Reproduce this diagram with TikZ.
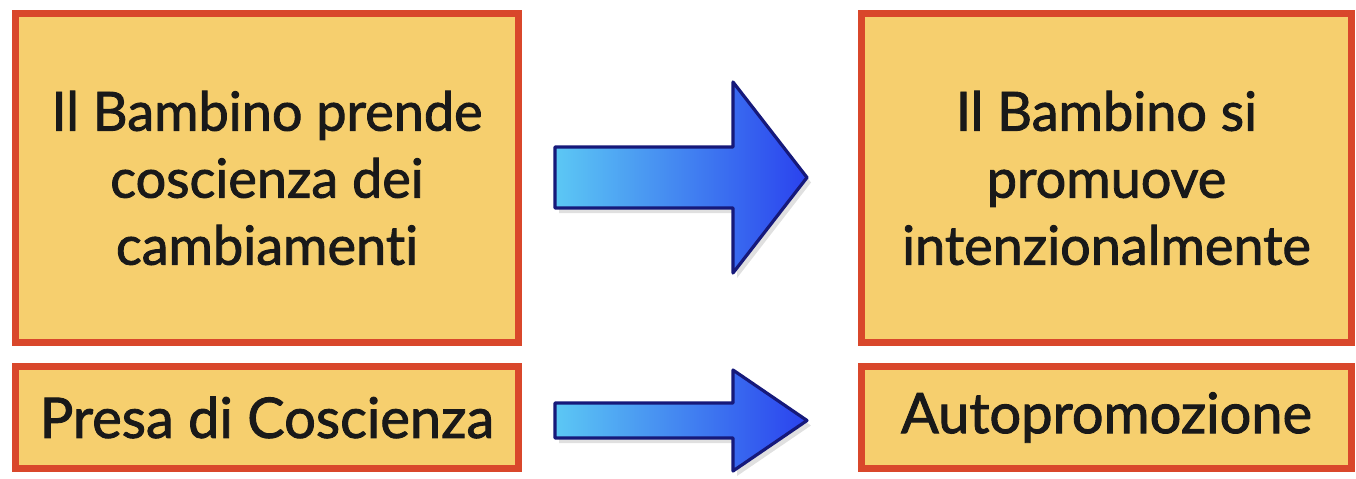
\documentclass[tikz,border=0pt]{standalone}
\usepackage{fontspec}
\setmainfont{Lato}
\newfontfamily\boxfont[FakeBold=1.6,Ligatures={NoCommon}]{Lato}
\definecolor{boxfill}{HTML}{F6CF6E}
\definecolor{boxline}{HTML}{D9472B}
\definecolor{arrowline}{HTML}{16197A}
\definecolor{arrowlight}{HTML}{5CC8F4}
\definecolor{arrowdark}{HTML}{2A42EE}
\tikzset{
  box/.style={draw=boxline, line width=3.5pt, fill=boxfill, inner sep=0pt,
    align=center, text=black!90, font=\boxfont\fontsize{27}{33.5}\selectfont},
  blockarrow/.style={draw=arrowline, line width=1.6pt, line join=round,
    left color=arrowlight, right color=arrowdark},
  arrowshadow/.style={fill=black, opacity=0.12}
}
\begin{document}
\begin{tikzpicture}[x=0.5pt,y=-0.5pt]
\useasboundingbox (0,0) rectangle (1356,478);
\fill[white] (0,0) rectangle (1356,478);

\node[box, minimum width=251.5pt, minimum height=164.5pt] (lt) at (267,178)
  {Il Bambino prende\\coscienza dei\\cambiamenti};
\node[box, minimum width=251.5pt, minimum height=51pt, font=\boxfont\fontsize{28}{33.5}\selectfont] (lb) at (267,417.5)
  {Presa di Coscienza};
\node[box, minimum width=245pt, minimum height=164.5pt] (rt) at (1106.5,178)
  {Il Bambino si\\promuove\\intenzionalmente};
\node[box, minimum width=245pt, minimum height=51pt, font=\boxfont\fontsize{28}{33.5}\selectfont] (rb) at (1106.5,417.5)
  {Autopromozione};

% big arrow (shadow then arrow)
\fill[arrowshadow] (559,152) -- (737,152) -- (737,87) -- (811,182.5) -- (737,278) -- (737,213) -- (559,213) -- cycle;
\path[blockarrow] (555,147) -- (733,147) -- (733,82) -- (807,177.5) -- (733,273) -- (733,208) -- (555,208) -- cycle;

% small arrow
\fill[arrowshadow] (559,408) -- (737,408) -- (737,375) -- (811,425.5) -- (737,476) -- (737,443) -- (559,443) -- cycle;
\path[blockarrow] (555,403) -- (733,403) -- (733,370) -- (807,420.5) -- (733,471) -- (733,438) -- (555,438) -- cycle;
\end{tikzpicture}
\end{document}
